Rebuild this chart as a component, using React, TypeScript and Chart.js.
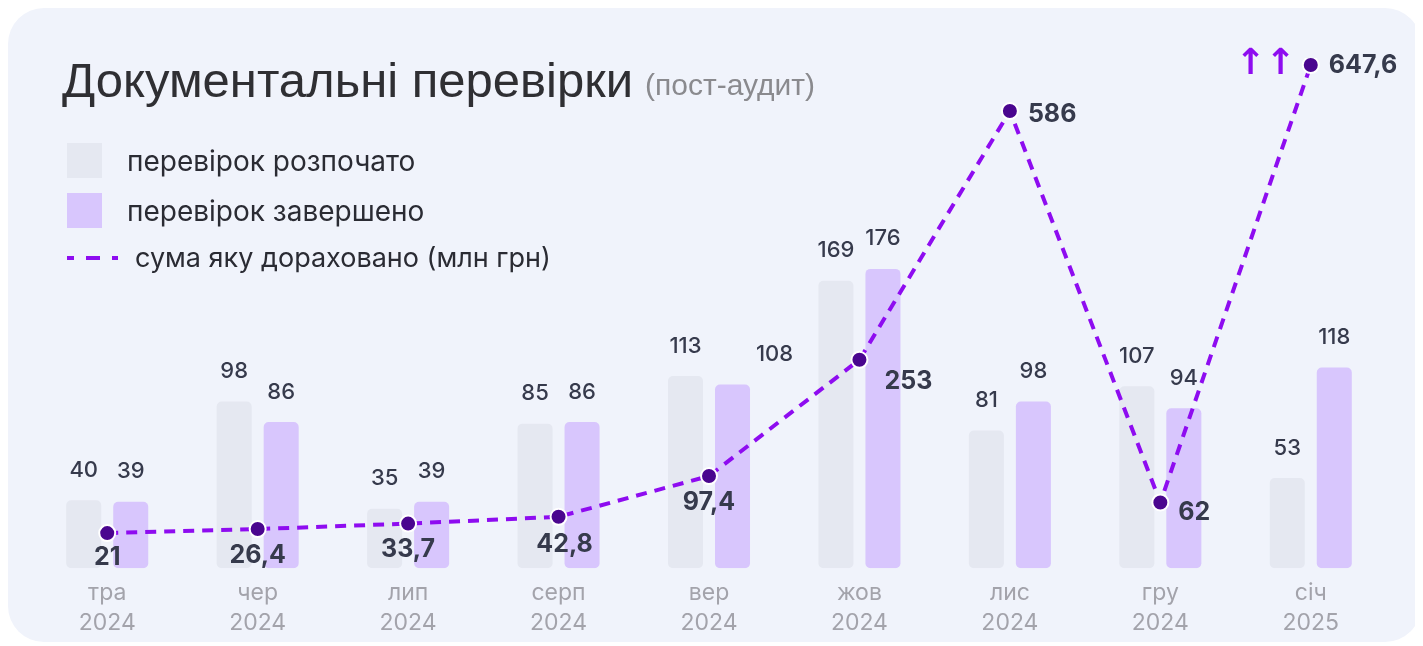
import React, { useEffect, useRef } from "react";
import { Chart, registerables } from "chart.js";

Chart.register(...registerables);

const months = ["тра", "чер", "лип", "серп", "вер", "жов", "лис", "гру", "січ"];
const years = ["2024", "2024", "2024", "2024", "2024", "2024", "2024", "2024", "2025"];
const started = [40, 98, 35, 85, 113, 169, 81, 107, 53];
const completed = [39, 86, 39, 86, 108, 176, 98, 94, 118];
const amount = [21, 26.4, 33.7, 42.8, 97.4, 253, 586, 62, 647.6];
const seriesNames = ["перевірок розпочато", "перевірок завершено", "сума яку дораховано (млн грн)"];
const titleText = "Документальні перевірки";
const subtitleText = "(пост-аудит)";
const arrowsText = "↑↑";

const GRAY = "#e5e8f1";
const LILAC = "#d8c6fd";
const LINE = "#8e0cf0";
const POINT = "#4a068f";
const DARK = "#363a4c";
const BODY_FONT = "Inter, 'Noto Sans', sans-serif";

const fmt = (v: number) => String(v).replace(".", ",");

const overlayPlugin = {
  id: "overlay",
  afterDatasetsDraw(chart: any, _args: any, opts: any) {
    const ctx = chart.ctx;
    ctx.save();
    // bar value labels
    ctx.font = `500 22px ${BODY_FONT}`;
    ctx.fillStyle = DARK;
    ctx.textAlign = "center";
    ctx.textBaseline = "middle";
    [0, 1].forEach((di) => {
      const meta = chart.getDatasetMeta(di);
      const vals = chart.data.datasets[di].data as number[];
      meta.data.forEach((bar: any, j: number) => {
        const shift = (opts.barShift && opts.barShift[`${di}-${j}`]) || 0;
        ctx.fillText(String(vals[j]), bar.x + shift, bar.y - 30);
      });
    });
    // line value labels
    const lmeta = chart.getDatasetMeta(2);
    const lvals = chart.data.datasets[2].data as number[];
    ctx.font = `700 25px ${BODY_FONT}`;
    ctx.fillStyle = DARK;
    lmeta.data.forEach((pt: any, j: number) => {
      const p = opts.linePlacement[j];
      ctx.textAlign = p.align;
      ctx.fillText(fmt(lvals[j]), pt.x + p.dx, pt.y + p.dy);
    });
    // arrows near last point
    const last = lmeta.data[lmeta.data.length - 1];
    ctx.font = `bold 36px 'DejaVu Sans', sans-serif`;
    ctx.fillStyle = LINE;
    ctx.textAlign = "right";
    ctx.textBaseline = "middle";
    ctx.fillText(arrowsText, last.x - 15, last.y);
    ctx.restore();
  },
  afterDraw(chart: any) {
    const ctx = chart.ctx;
    ctx.save();
    ctx.textBaseline = "alphabetic";
    ctx.textAlign = "left";
    ctx.font = `49px 'Liberation Sans', Arial, sans-serif`;
    ctx.fillStyle = "#2f2f33";
    ctx.fillText(titleText, 54, 89);
    ctx.font = `30px 'Liberation Sans', Arial, sans-serif`;
    ctx.fillStyle = "#8a8a8e";
    ctx.fillText(subtitleText, 637, 87);

    // legend
    ctx.fillStyle = GRAY;
    ctx.fillRect(59, 135, 35, 35);
    ctx.fillStyle = LILAC;
    ctx.fillRect(59, 185, 35, 35);
    ctx.strokeStyle = LINE;
    ctx.lineWidth = 4;
    ctx.setLineDash([14, 12]);
    ctx.lineDashOffset = 7;
    ctx.beginPath();
    ctx.moveTo(59, 250);
    ctx.lineTo(110, 250);
    ctx.stroke();
    ctx.setLineDash([]);
    ctx.font = `28px ${BODY_FONT}`;
    ctx.fillStyle = "#2a2b33";
    ctx.fillText(seriesNames[0], 119, 163);
    ctx.fillText(seriesNames[1], 119, 213);
    ctx.font = `27px ${BODY_FONT}`;
    ctx.fillText(seriesNames[2], 127, 259);
    ctx.restore();
  },
};

export default function App() {
  const ref = useRef<HTMLCanvasElement | null>(null);
  useEffect(() => {
    if (!ref.current) return;
    const chart = new Chart(ref.current, {
      type: "bar",
      data: {
        labels: months.map((m, i) => [m, years[i]]),
        datasets: [
          {
            label: seriesNames[0],
            data: started,
            backgroundColor: GRAY,
            borderRadius: 5,
            borderSkipped: false,
            categoryPercentage: 0.625,
            barPercentage: 0.745,
            yAxisID: "y",
            order: 2,
          },
          {
            label: seriesNames[1],
            data: completed,
            backgroundColor: LILAC,
            borderRadius: 5,
            borderSkipped: false,
            categoryPercentage: 0.625,
            barPercentage: 0.745,
            yAxisID: "y",
            order: 2,
          },
          {
            type: "line",
            label: seriesNames[2],
            data: amount,
            borderColor: LINE,
            borderWidth: 4,
            borderDash: [11, 8],
            pointRadius: 8,
            pointHoverRadius: 8,
            pointBackgroundColor: POINT,
            pointBorderColor: "#ffffff",
            pointBorderWidth: 2,
            tension: 0,
            fill: false,
            yAxisID: "y1",
            order: 0,
          } as any,
        ],
      },
      options: {
        responsive: false,
        animation: false,
        devicePixelRatio: 1,
        layout: { padding: { left: 24, right: 35, top: 50, bottom: 13 } },
        plugins: {
          legend: { display: false },
          title: { display: false },
          tooltip: { enabled: false },
          overlay: {
            barShift: { "1-4": 42 },
            linePlacement: [
              { align: "center", dx: 0, dy: 24 },
              { align: "center", dx: 0, dy: 26 },
              { align: "center", dx: 0, dy: 26 },
              { align: "center", dx: 6, dy: 28 },
              { align: "center", dx: 0, dy: 26 },
              { align: "left", dx: 25, dy: 22 },
              { align: "left", dx: 18, dy: 3 },
              { align: "left", dx: 18, dy: 10 },
              { align: "left", dx: 18, dy: 0 },
            ],
          },
        } as any,
        scales: {
          x: {
            grid: { display: false },
            border: { display: false },
            ticks: {
              color: "#a3a3ab",
              font: { family: BODY_FONT, size: 23, lineHeight: 1.3 },
              padding: 2,
              maxRotation: 0,
            },
          },
          y: { display: false, min: 0, max: 300 },
          y1: { display: false, min: -26, max: 657 },
        },
      },
      plugins: [overlayPlugin],
    });
    return () => chart.destroy();
  }, []);
  return (
    <div
      style={{
        width: 1413,
        height: 634,
        background: "#f0f3fb",
        borderRadius: 36,
        position: "relative",
        overflow: "hidden",
      }}
    >
      <canvas
        ref={ref}
        width={1413}
        height={645}
        style={{ width: 1413, height: 645, display: "block", position: "absolute", left: 0, top: 0 }}
      />
    </div>
  );
}
